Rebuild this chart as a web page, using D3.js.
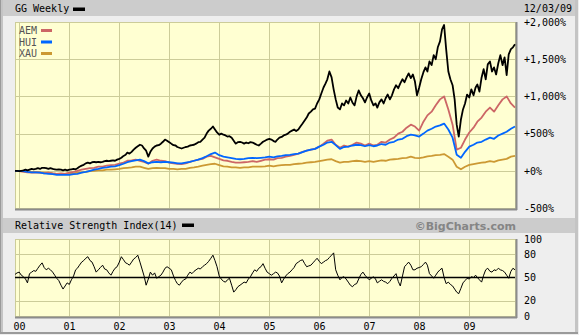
<!DOCTYPE html>
<html><head><meta charset="utf-8">
<script src="https://cdn.jsdelivr.net/npm/d3@7"></script>
<style>
html,body{margin:0;padding:0;background:#ececec;}
svg{display:block;}
text{font-family:"DejaVu Sans Mono",monospace;font-size:10px;}
</style></head><body><svg id="c" width="579" height="335"></svg>
<script>
// ---------- DATA ----------
const titleText = "GG Weekly";
const dateText = "12/03/09";
const rsiTitle = "Relative Strength Index(14)";
const creditText = "\u00A9BigCharts.com";
const startDate = new Date(1999, 11, 3);
const endDate = new Date(2009, 11, 3);
const yearLabels = ["00","01","02","03","04","05","06","07","08","09"];
const pctTicks = [2000, 1500, 1000, 500, 0, -500];
const rsiTicks = [100, 80, 50, 20, 0];
const seriesNames = ["AEM", "HUI", "XAU"];

// GG, semi-monthly (% change)
const ggValues = [
 0,0,-5,0,5,15,5,15,25,20,
 25,35,25,40,40,35,25,35,25,20,
 15,20,15,5,15,5,15,20,25,20,
 35,55,70,80,100,110,100,115,120,115,
 120,115,120,130,135,130,135,140,135,150,
 160,175,200,215,245,230,255,285,310,330,
 350,340,300,270,190,255,300,325,340,345,
 365,390,420,405,385,365,345,340,320,310,
 300,310,320,325,340,345,350,365,385,390,
 420,445,500,540,565,595,555,515,485,500,
 485,475,460,465,445,405,365,385,390,380,
 365,380,370,385,380,365,350,340,365,390,
 405,420,430,420,400,390,420,445,455,475,
 485,500,525,540,555,535,555,595,635,675,
 715,770,795,825,835,905,960,1040,1120,1175,
 1230,1335,1255,1095,960,850,825,905,880,945,
 905,985,915,880,1000,1080,1015,975,920,985,
 1040,945,880,905,850,920,960,905,975,1025,
 960,1015,1095,1150,1110,1175,1230,1190,1255,1310,
 1245,1295,1200,1015,1120,1230,1325,1390,1335,1470,
 1420,1555,1500,1660,1740,1900,1960,1635,1335,1230,
 1150,960,620,460,690,825,905,1025,985,1095,
 1015,1120,1160,1065,1255,1365,1230,1430,1470,1335,
 1390,1295,1445,1555,1420,1525,1285,1565,1635,1660,
 1700
];
// monthly (% change)
const aemValues = [
 0,-5,-15,-20,-25,-20,-25,-35,-25,-35,
 -40,-35,-40,-25,-15,0,15,25,35,40,
 55,55,70,75,80,95,110,135,140,150,
 135,120,95,135,150,135,130,110,100,95,
 90,100,120,135,150,160,190,200,180,160,
 140,135,120,110,110,115,120,130,120,135,
 150,155,150,170,175,190,200,215,230,255,
 270,285,295,325,365,405,420,350,310,340,
 325,350,380,365,340,365,340,350,390,380,
 420,445,500,525,580,620,595,540,660,745,
 795,880,960,1000,825,620,285,310,420,515,
 580,660,715,795,850,795,880,960,1000,905,
 850
];
const huiValues = [
 0,0,-5,-15,-20,-20,-25,-35,-40,-45,
 -55,-55,-55,-55,-45,-40,-25,-15,0,15,
 25,40,45,55,60,75,95,115,130,140,
 150,130,100,115,120,115,120,115,110,100,
 100,110,120,135,150,170,195,225,245,210,
 190,180,170,160,155,160,170,175,170,175,
 180,190,180,195,200,210,215,225,230,250,
 270,285,295,325,350,380,390,345,295,320,
 325,340,350,345,330,345,330,340,360,350,
 380,390,420,430,465,485,475,460,500,540,
 565,595,610,635,555,445,215,175,255,325,
 350,380,390,420,445,430,475,500,525,565,
 595
];
const xauValues = [
 0,0,-5,-5,-15,-15,-20,-25,-25,-35,
 -40,-40,-40,-35,-35,-25,-20,-15,-5,0,
 5,5,15,15,20,25,35,40,45,55,
 55,40,25,35,40,35,35,25,25,20,
 25,25,40,45,55,70,80,90,95,75,
 60,55,45,45,40,45,45,55,55,55,
 60,70,60,70,75,80,80,90,95,100,
 110,115,120,130,140,150,155,130,110,120,
 120,130,135,130,120,130,120,130,140,135,
 150,155,160,170,175,190,175,170,180,195,
 200,210,215,225,190,150,55,20,55,80,
 90,100,110,115,130,120,140,150,160,190,
 200
];
// RSI(14), semi-monthly
const rsiValues = [
 54,56,57,53,51,48,43,55,57,59,58,62,66,69,63,60,62,60,57,53,49,46,40,35,
 39,43,41,47,52,60,62,66,70,72,75,77,72,70,64,57,60,63,66,61,60,56,53,58,
 62,64,70,77,73,69,68,66,70,74,76,79,70,61,52,40,48,57,53,56,49,51,53,57,
 62,64,62,60,52,46,42,40,44,47,48,53,57,55,58,60,62,61,64,66,68,71,75,79,
 72,64,52,48,45,44,47,49,40,31,34,38,40,42,44,43,48,51,56,60,58,62,64,68,
 62,57,55,53,55,57,56,52,43,48,52,55,57,60,63,68,70,72,73,68,64,65,66,69,
 72,75,71,68,70,72,73,76,79,82,60,53,47,50,51,48,44,40,38,41,42,48,54,57,
 53,50,47,49,51,48,43,45,47,45,44,42,45,49,52,55,45,39,52,64,67,70,66,60,
 60,62,63,64,67,70,66,55,52,49,53,57,60,62,50,42,44,41,39,35,31,29,36,43,
 46,49,48,51,50,53,50,47,44,53,60,62,58,57,60,59,62,60,59,57,53,49,58,62,
 60
];

// ---------- STYLE ----------
const colors = { GG: "#000000", AEM: "#cc6666", HUI: "#0066ff", XAU: "#cc9933" };
const plotFill = "#ffffd2", gridColor = "#cccc99", barFill = "#cccccc", shadow = "#8c8c8c";

// dates
const semiDates = ggValues.map((_, j) => new Date(1999, 11 + Math.floor(j / 2), j % 2 ? 18 : 3));
const monthDates = aemValues.map((_, i) => new Date(1999, 11 + i, 3));
const yearDates = yearLabels.map(s => new Date(2000 + (+s), 0, 1));

const svg = d3.select("#c");
const W = 579, H = 335;
const L = 15, R = 515;
const mainTop = 22, mainBot = 208;
const rsiTop = 239, rsiBot = 316;

// background + frame
svg.append("rect").attr("x", 0).attr("y", 0).attr("width", W).attr("height", H).attr("fill", "#eeeeee");
svg.append("rect").attr("x", 0.5).attr("y", -1).attr("width", W - 2).attr("height", H - 0.5)
  .attr("fill", "none").attr("stroke", "#9a9a9a").attr("stroke-width", 1);
svg.append("rect").attr("x", 1).attr("y", 0).attr("width", 2).attr("height", H - 2).attr("fill", "#c4c4c4");
svg.append("rect").attr("x", W - 4).attr("y", 0).attr("width", 3).attr("height", H - 2).attr("fill", "#c4c4c4");
svg.append("rect").attr("x", 1).attr("y", H - 3).attr("width", W - 2).attr("height", 2).attr("fill", "#9a9a9a");

// header bars
svg.append("rect").attr("x", 3).attr("y", 0).attr("width", W - 7).attr("height", 16).attr("fill", barFill);
svg.append("rect").attr("x", 3).attr("y", 218).attr("width", W - 7).attr("height", 15).attr("fill", barFill);

const x = d3.scaleTime().domain([startDate, endDate]).range([L, R]);
const y = d3.scaleLinear().domain([-500, 2000]).range([mainBot, mainTop]);
const yr = d3.scaleLinear().domain([0, 100]).range([rsiBot, rsiTop]);

function panel(top, bot) {
  svg.append("rect").attr("x", L + 0.5).attr("y", top + 0.5).attr("width", R - L).attr("height", bot - top)
    .attr("fill", plotFill).attr("stroke", gridColor);
  svg.append("line").attr("x1", L).attr("x2", R + 2).attr("y1", bot + 1.5).attr("y2", bot + 1.5)
    .attr("stroke", shadow).attr("stroke-width", 2);
  svg.append("line").attr("x1", R + 1.5).attr("x2", R + 1.5).attr("y1", top).attr("y2", bot + 2)
    .attr("stroke", shadow).attr("stroke-width", 2);
  svg.append("g").selectAll("line").data(yearDates).join("line")
    .attr("x1", d => Math.round(x(d)) + 0.5).attr("x2", d => Math.round(x(d)) + 0.5)
    .attr("y1", top).attr("y2", bot).attr("stroke", gridColor);
}
panel(mainTop, mainBot);
panel(rsiTop, rsiBot);

// horizontal grid
svg.append("g").selectAll("line").data(pctTicks.filter(v => v > -500 && v < 2000)).join("line")
  .attr("x1", L).attr("x2", R).attr("y1", d => Math.round(y(d)) + 0.5).attr("y2", d => Math.round(y(d)) + 0.5)
  .attr("stroke", gridColor);
svg.append("g").selectAll("line").data([80, 20]).join("line")
  .attr("x1", L).attr("x2", R).attr("y1", d => Math.round(yr(d)) + 0.5).attr("y2", d => Math.round(yr(d)) + 0.5)
  .attr("stroke", gridColor);

// series
const line = d3.line().x(d => x(d[0])).y(d => y(d[1]));
const comps = { AEM: aemValues, HUI: huiValues, XAU: xauValues };
["XAU", "AEM", "HUI"].forEach(k => {
  svg.append("path").datum(monthDates.map((d, i) => [d, comps[k][i]]))
    .attr("d", line).attr("fill", "none").attr("stroke", colors[k]).attr("stroke-width", 1.8)
    .attr("stroke-linejoin", "round");
});
svg.append("path").datum(semiDates.map((d, i) => [d, ggValues[i]]))
  .attr("d", line).attr("fill", "none").attr("stroke", colors.GG).attr("stroke-width", 1.8)
  .attr("stroke-linejoin", "round");

// RSI
svg.append("line").attr("x1", L).attr("x2", R).attr("y1", yr(50)).attr("y2", yr(50))
  .attr("stroke", "#000").attr("stroke-width", 1.5);
svg.append("path").datum(semiDates.map((d, i) => [d, rsiValues[i]]))
  .attr("d", d3.line().x(d => x(d[0])).y(d => yr(d[1])))
  .attr("fill", "none").attr("stroke", "#000").attr("stroke-width", 1);

// axes
const pctFmt = v => (v < 0 ? "-" : "+") + d3.format(",")(Math.abs(v)) + "%";
const ax1 = svg.append("g").attr("transform", `translate(${R},0)`)
  .call(d3.axisRight(y).tickValues(pctTicks).tickFormat(pctFmt).tickSize(0).tickPadding(9));
const ax2 = svg.append("g").attr("transform", `translate(${R},0)`)
  .call(d3.axisRight(yr).tickValues(rsiTicks).tickFormat(d3.format("d")).tickSize(0).tickPadding(9));
const ax3 = svg.append("g").attr("transform", `translate(0,${rsiBot})`)
  .call(d3.axisBottom(x).tickValues(yearDates).tickFormat((d, i) => yearLabels[i]).tickSize(0).tickPadding(7));
[ax1, ax2, ax3].forEach(a => {
  a.select(".domain").remove();
  a.selectAll("text").attr("fill", "#000").style("font-family", '"DejaVu Sans Mono",monospace').style("font-size", "10px");
});

// titles
svg.append("text").attr("x", 15).attr("y", 12).text(titleText);
svg.append("rect").attr("x", 73).attr("y", 7.5).attr("width", 12).attr("height", 3.5).attr("fill", colors.GG);
svg.append("text").attr("x", 572).attr("y", 12).attr("text-anchor", "end").text(dateText);
svg.append("text").attr("x", 15).attr("y", 229).text(rsiTitle);
svg.append("rect").attr("x", 182).attr("y", 223.5).attr("width", 12).attr("height", 3.5).attr("fill", "#000");
svg.append("text").attr("x", 516).attr("y", 229.5).attr("text-anchor", "end")
  .style("font-family", '"DejaVu Sans",sans-serif').style("font-size", "11px").style("font-weight", "bold")
  .attr("fill", "#858585").text(creditText);

// legend
seriesNames.forEach((n, i) => {
  svg.append("text").attr("x", 19).attr("y", 34 + i * 11.5).attr("fill", "#555").text(n);
  svg.append("rect").attr("x", 41).attr("y", 29 + i * 11.5).attr("width", 11).attr("height", 3)
    .attr("fill", colors[n]);
});
</script></body></html>
